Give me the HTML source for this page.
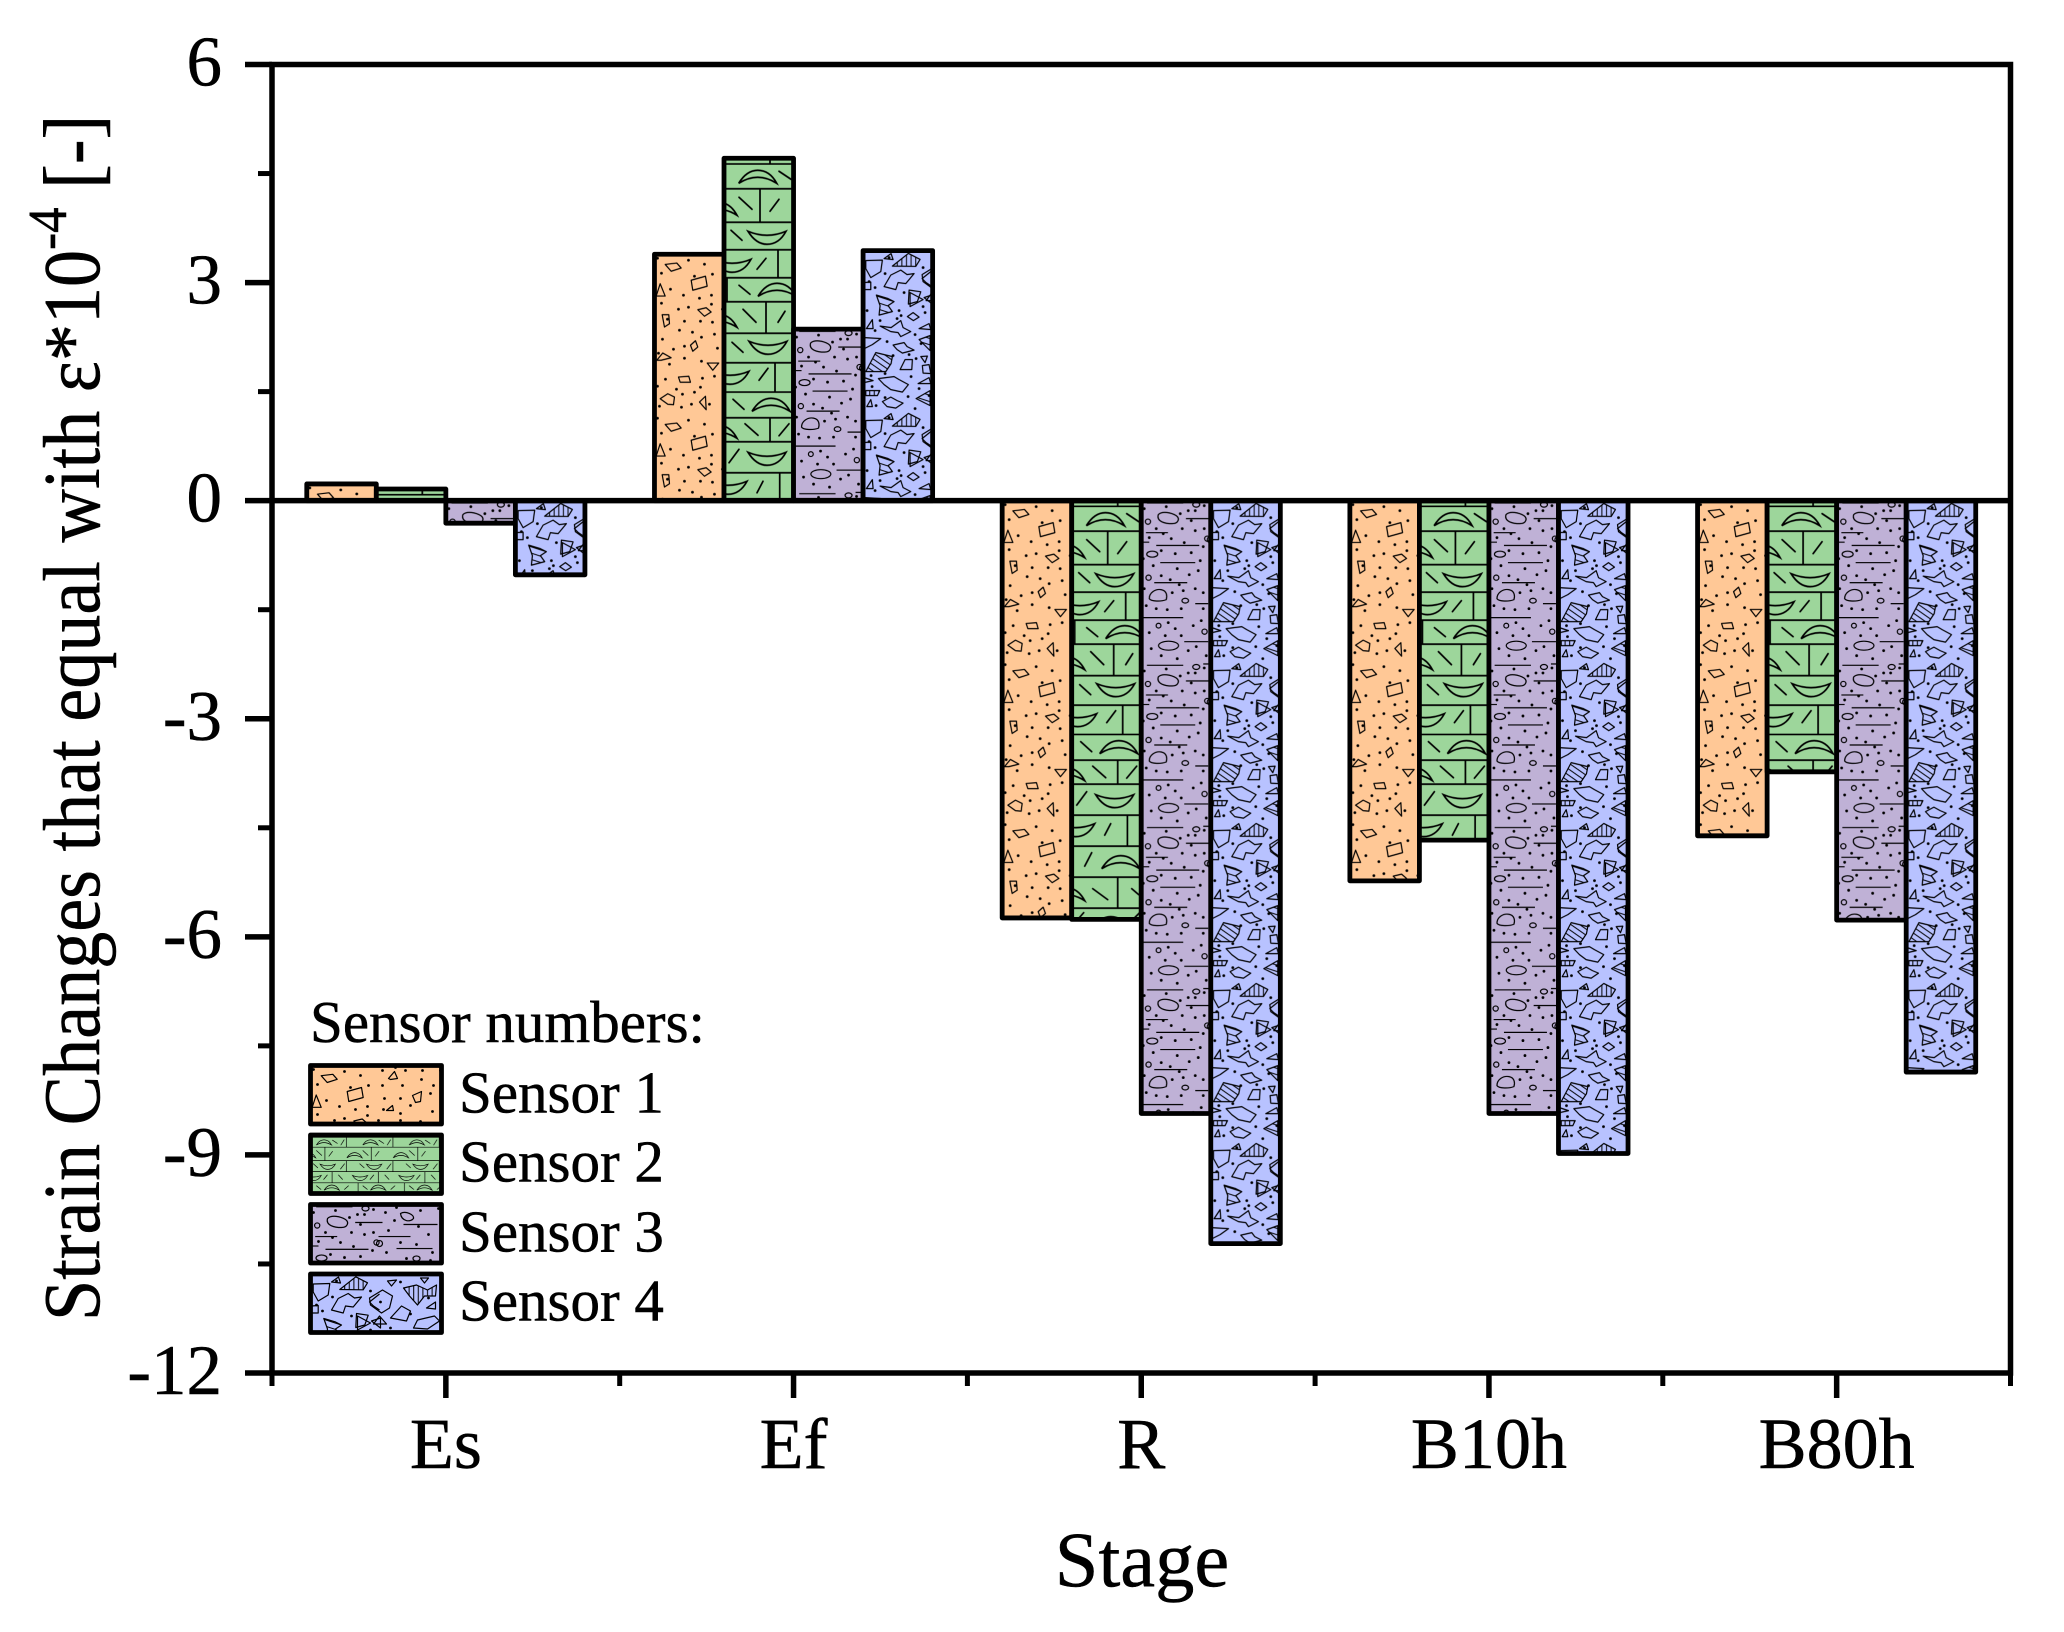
<!DOCTYPE html>
<html lang="en">
<head>
<meta charset="utf-8">
<title>Strain changes by stage</title>
<style>
html,body{margin:0;padding:0;background:#fff;}
svg{display:block;}
text{font-family:"Liberation Serif","Times New Roman",serif;fill:#000;stroke:#000;stroke-width:0.5px;}
</style>
</head>
<body>
<svg id="chart" xmlns="http://www.w3.org/2000/svg" width="2064" height="1632" viewBox="0 0 2064 1632">
<defs>
  <path id="arcU" d="M0 14Q8 1 19 1Q31 1 38 14Q19 2 0 14Z"/>
  <path id="arcD" d="M0 0Q19 8 38 0Q31 13 19 13Q8 13 0 0Z"/>
  <pattern id="hatchV" patternUnits="userSpaceOnUse" width="4.6" height="10"><path d="M2 0V10" stroke="#000" stroke-width="1"/></pattern>
  <pattern id="hatchD" patternUnits="userSpaceOnUse" width="5" height="5" patternTransform="rotate(-55)"><path d="M2 0V5" stroke="#000" stroke-width="1"/></pattern>
  <pattern id="hatchH" patternUnits="userSpaceOnUse" width="6" height="6" patternTransform="rotate(18)"><path d="M0 3H6" stroke="#000" stroke-width="1"/></pattern>

  <pattern id="pOrange" patternUnits="userSpaceOnUse" width="160" height="160">
    <rect width="160" height="160" fill="#FFC896"/>
    <g fill="none" stroke="#000" stroke-width="1.2" stroke-linejoin="round">
      <path d="M10.7 10.2L22.3 8.8L26.7 13.8L16.7 17Z"/>
      <path d="M36.7 26L51 22L52.7 32L38.3 36Z"/>
      <path d="M1.7 41.8L5.7 29.5L10.7 41.8Z"/>
      <path d="M7.7 60.5L14.3 60.5L15 69.5L10 72.8Z"/>
      <path d="M43.3 55.5L51.7 53.5L56.7 57.8L50 62Z"/>
      <path d="M36 91L41 86.5L43.3 92.8L38.3 97Z"/>
      <path d="M2.3 106L8.3 98.8L16.7 103.5L6.7 106Z"/>
      <path d="M52.7 108.8L64.3 108.8L58.3 116Z"/>
      <path d="M24 122.8L34.3 122L36 128L25.7 128Z"/>
      <path d="M5.7 144.5L13.3 139.5L20 142.8L19 150.5L13.3 150Z"/>
      <path d="M45 147.8L51 142L51.7 155.5Z"/>
      <path d="M78 13L84 6L87 13L80 14Z"/>
      <path d="M102 30L111 26L110 36L105 37Z"/>
      <path d="M76 45L82 40L83 45Z"/>
    </g>
    <path stroke="#000" stroke-width="2.8" stroke-linecap="round" fill="none" d="M3 4h0M34 6h0M50 10h0M7 19h0M58 20h0M40 22h0M16 35h0M29 41h0M57 41h0M7 49h0M34 53h0M24 55h0M57 50h0M45 44h0M13 65h0M30 67h0M46 67h0M58 68h0M25 76h0M38 78h0M8 85h0M47 83h0M60 80h0M19 95h0M30 92h0M63 94h0M4 99h0M15 110h0M30 104h0M47 107h0M11 125h0M48 124h0M60 122h0M3 132h0M22 135h0M28 140h0M40 138h0M5 152h0M37 150h0M55 150h0M27 153h0M46 133h0M72 5h0M85 2h0M95 5h0M112 5h0M130 5h0M72 20h0M92 20h0M111 14h0M123 20h0M74 33h0M90 33h0M120 28h0M73 44h0M90 48h0M100 40h0M122 46h0M68 55h0M90 55h0M110 56h0"/>
  </pattern>

  <pattern id="pGreen" patternUnits="userSpaceOnUse" width="116" height="430">
    <rect width="116" height="430" fill="#9DD69B"/>
    <path fill="none" stroke="#000" stroke-width="1.7" d="M0 5.7H116M0 30.5H116M0 64H116M0 91.5H116M0 119.5H116M0 143.5H116M0 175H116M0 204.5H116M0 233.8H116M0 259.5H116M0 283.5H116M0 314.5H116M0 345.5H116M0 376.5H116M0 407.5H116M46 0V5.7M90 5.7V30.5M36 30.5V64M90 64V91.5M54 91.5V119.5M3 119.5V143.5M42 143.5V175M95 175V204.5M51 204.5V233.8M100 233.8V259.5M46 259.5V283.5M90 283.5V314.5M55.7 314.5V345.5M100 345.5V376.5M46 376.5V407.5M95 407.5V430"/>
    <g fill="none" stroke="#000" stroke-width="1.7" stroke-linecap="round">
      <path d="M55 13L67 21M76 25L84 12M15 39L28 51M46 53L55 41M7 72L18 82M75 85L85 72M33 111L42 100M70 100L80 111M15 127L26 136M85 136L95 127M19 151L32 164M54 164L61 153M8 184L19 194M80 195L90 184M35 222L44 210M70 210L80 222M9 241L20 251M80 252L90 240M21 265.5L34 277M55 277.5L65 265.5M5 304.5L15 291M75 305L85 291M33 334.5L39 323M70 323L80 335M13 365.5L20 352M80 366L90 352M21 388L36 399M60 388L67 394M60 420L68 412M5 420L12 412"/>
      <use href="#arcU" x="14.7" y="11"/>
      <use href="#arcU" x="-25" y="43"/>
      <use href="#arcU" x="91" y="43"/>
      <use href="#arcD" x="24" y="73"/>
      <use href="#arcD" x="-11" y="101"/>
      <use href="#arcD" x="105" y="101"/>
      <use href="#arcU" x="34" y="124"/>
      <use href="#arcU" x="-25" y="155"/>
      <use href="#arcU" x="91" y="155"/>
      <use href="#arcD" x="25" y="183"/>
      <use href="#arcD" x="-13" y="213"/>
      <use href="#arcD" x="103" y="213"/>
      <use href="#arcU" x="28" y="239"/>
      <use href="#arcU" x="-25" y="266"/>
      <use href="#arcU" x="91" y="266"/>
      <use href="#arcD" x="24" y="294"/>
      <use href="#arcD" x="-15" y="323"/>
      <use href="#arcD" x="101" y="323"/>
      <use href="#arcU" x="30" y="354"/>
      <use href="#arcU" x="-25" y="386"/>
      <use href="#arcU" x="91" y="386"/>
      <use href="#arcU" x="20" y="415"/>
    </g>
  </pattern>
  <pattern id="pGreenS" href="#pGreen" patternTransform="scale(0.4)"></pattern>

  <pattern id="pPurple" patternUnits="userSpaceOnUse" width="160" height="162.3">
    <rect width="160" height="162.3" fill="#BFB1D6"/>
    <g fill="none" stroke="#000" stroke-width="1.2">
      <path d="M17 14C21 10 30 12 35 15C39 18 37 23 31 23C24 23 15 21 17 14Z"/>
      <circle cx="6.7" cy="21" r="2.6"/>
      <path d="M4.7 32H26.7M44.7 18H72M0 41.5H8M15 44.8H58M19 62H54M13 82H46M54 103H67M0 117H42M43 141H67M5.7 2.3H42M62 1H70"/>
      <circle cx="66" cy="38" r="2.6"/>
      <ellipse cx="11" cy="53.5" rx="5.5" ry="3"/>
      <circle cx="7.3" cy="77" r="2.6"/>
      <path d="M8 98C8 92 14 88 20 89C26 90 26 96 25 99C20 101 10 101 8 98Z"/>
      <ellipse cx="44" cy="100" rx="3.3" ry="2.4"/>
      <circle cx="17.3" cy="125" r="2.4"/>
      <circle cx="63.3" cy="131" r="2.6"/>
      <ellipse cx="27.3" cy="145" rx="10" ry="4.5"/>
      <ellipse cx="55" cy="4" rx="3.5" ry="2.5"/>
      <path d="M90 9C95 6 104 10 103 14C100 18 91 17 90 9Z"/>
      <path d="M93 20H127M68 32H100M86 44H122"/>
      <circle cx="69" cy="39" r="3"/>
      <ellipse cx="106" cy="54" rx="3.5" ry="2.5"/>
    </g>
    <path stroke="#000" stroke-width="2.8" stroke-linecap="round" fill="none" d="M25 6h0M47 10h0M54 10h0M3 8h0M39 13h0M50 20h0M63 5h0M15 28h0M22 33h0M41 28h0M54 30h0M63 28h0M30 38h0M8 37h0M43 42h0M62 46h0M20 50h0M34 53h0M50 52h0M59 60h0M2 58h0M12 65h0M36 68h0M57 70h0M29 79h0M48 74h0M20 75h0M38 84h0M54 88h0M3 88h0M31 92h0M42 90h0M62 92h0M5 105h0M15 108h0M26 109h0M40 108h0M62 108h0M27 122h0M34 128h0M52 125h0M60 120h0M8 132h0M24 135h0M40 135h0M10 148h0M47 150h0M55 146h0M20 155h0M36 158h0M65 155h0M75 8h0M86 3h0M110 6h0M128 4h0M84 16h0M108 22h0M78 26h0M118 30h0M90 38h0M106 40h0M76 48h0M122 48h0M96 54h0M120 56h0"/>
  </pattern>

  <pattern id="pBlue" patternUnits="userSpaceOnUse" width="160" height="160">
    <rect width="160" height="160" fill="#B8C2FF"/>
    <g fill="none" stroke="#000" stroke-width="1.2" stroke-linejoin="round">
      <path d="M29.3 15.5L45.3 2.8L57 8.8L52.7 15.8Z" fill="url(#hatchV)"/>
      <path d="M2.7 10L19.3 9.5L17.7 21L7.7 27L2.7 18Z"/>
      <path d="M21 36L27.7 24.5L37.7 19.5L44 24L51 23L42.7 33L35 32L32.7 39Z"/>
      <path d="M13.3 44.5L25 48L31 51L25 55L29.3 61L16 64.5L17 55Z" fill="url(#hatchH)"/>
      <path d="M46 39.5L57.7 41.2L54.3 51L45.3 53.5Z"/>
      <path d="M44.3 66L50 62L56 66.5L50.3 70Z"/>
      <path d="M3.3 78L9.3 69L10 78Z"/>
      <path d="M17 75.5L28 77L37.7 70L40 77L47.7 81L37.7 86L35 82L27.7 81Z"/>
      <path d="M1 87L17.7 88L9.3 94L1.3 98Z"/>
      <path d="M30 94.5L41 92L44 96L51 99.5L39.3 102.5L34 99Z"/>
      <path d="M2.7 121L12.7 102L29.3 106L28 113L22.7 121Z" fill="url(#hatchD)"/>
      <path d="M37 119L42 109L49.3 109L48.7 119Z"/>
      <path d="M57.7 106L64.3 105.5L62 112Z"/>
      <path d="M59.3 115L66 114L67.7 123L60 122.5Z"/>
      <path d="M55 133L66 127L67.7 133Z"/>
      <path d="M15.3 128L31 126L36 129L45.3 134L39.3 141.5L27.7 139L21 134Z"/>
      <path d="M19.3 151L27.7 146.5L34 150L40 152.5L32.7 157.5L24 156Z"/>
      <path d="M2.7 140L16.7 140L14.3 145L2.7 145Z" fill="url(#hatchV)"/>
      <path d="M3.7 156L7.7 149L9.3 156Z"/>
      <path d="M1 127L10 130L1 132Z"/>
      <path d="M1 32L7.7 31.5L7.7 39L1 39Z"/>
      <path d="M69 20L59 28L63 32L69 36"/>
      <path d="M56 78L66 73L67.7 79Z"/>
      <path d="M56 89L67 85L67 100Z" fill="url(#hatchH)"/>
      <path d="M53 148L67 140L67 155Z" fill="url(#hatchH)"/>
      <path d="M21 8L28 3L30 9Z"/>
      <path d="M61 47L70 44L70 54Z"/>
      <path d="M59 24L72 16L82 22L79 34L71 39L60 31Z"/>
      <path d="M93 14L106 11L117 16L126 11L125 22L114 22L107 31L99 22Z" fill="url(#hatchV)"/>
      <path d="M77 7L86 6L81 12Z"/>
      <path d="M110 4L118 4L114 9Z"/>
      <path d="M116 34L125 28L125 35Z"/>
      <path d="M80 44L91 32L100 37L96 47Z"/>
      <path d="M103 54L107 46L124 42L129 47L117 55Z"/>
      <path d="M47 42L60 49L47 56Z"/>
      <path d="M63 50L69 42L76 50Z"/>
    </g>
    <path stroke="#000" stroke-width="2.8" stroke-linecap="round" fill="none" d="M26 7h0M60 17h0M22 23h0M6 31h0M41 42h0M12 37h0M60 56h0M36 60h0M38 65h0M4 60h0M62 62h0M17 70h0M34 68h0M12 80h0M52 84h0M24 91h0M58 93h0M30 105h0M46 104h0M53 108h0M8 125h0M22 123h0M48 126h0M9 136h0M56 138h0M22 147h0M45 146h0M66 145h0M13 155h0M52 158h0M70 28h0M90 8h0M100 40h0M118 24h0M80 54h0"/>
  </pattern>
</defs>
<rect width="2064" height="1632" fill="#fff"/>
<g id="bars"></g>
<g id="axes"></g>
<g id="legend">
  <text x="310" y="1042" font-size="59">Sensor numbers:</text>
  <g>
    <g transform="translate(310.5,1065.5)"><rect width="131" height="58.5" fill="url(#pOrange)" stroke="#000" stroke-width="4.8" stroke-linejoin="round"/></g>
    <text x="459" y="1112.5" font-size="59">Sensor 1</text>
  </g>
  <g>
    <g transform="translate(310.5,1135)"><rect width="131" height="58.5" fill="url(#pGreenS)" stroke="#000" stroke-width="4.8" stroke-linejoin="round"/></g>
    <text x="459" y="1181.5" font-size="59">Sensor 2</text>
  </g>
  <g>
    <g transform="translate(310.5,1204.5)"><rect width="131" height="58.5" fill="url(#pPurple)" stroke="#000" stroke-width="4.8" stroke-linejoin="round"/></g>
    <text x="459" y="1251.5" font-size="59">Sensor 3</text>
  </g>
  <g>
    <g transform="translate(310.5,1274)"><rect width="131" height="58.5" fill="url(#pBlue)" stroke="#000" stroke-width="4.8" stroke-linejoin="round"/></g>
    <text x="459" y="1320.5" font-size="59">Sensor 4</text>
  </g>
</g>
<text transform="translate(99,1321) rotate(-90) scale(0.927,1)" font-size="80">Strain Changes that equal with ε*10<tspan dy="-33" font-size="55">-4</tspan><tspan dy="33"> [-]</tspan></text>
<text x="1142" y="1586" text-anchor="middle" font-size="78.5">Stage</text>
<script>
const categories = ["Es", "Ef", "R", "B10h", "B80h"];
const sensor1 = [0.23, 3.39, -5.74, -5.23, -4.61];
const sensor2 = [0.16, 4.71, -5.76, -4.67, -3.73];
const sensor3 = [-0.31, 2.36, -8.43, -8.43, -5.77];
const sensor4 = [-1.02, 3.44, -10.22, -8.98, -7.86];
const yTickLabels = ["6", "3", "0", "-3", "-6", "-9", "-12"];
const yTickValues = [6, 3, 0, -3, -6, -9, -12];
const yMinorValues = [4.5, 1.5, -1.5, -4.5, -7.5, -10.5];

const NS = "http://www.w3.org/2000/svg";
const plotLeft = 272, plotRight = 2010.5, plotTop = 64.5, plotBottom = 1373;
const yMax = 6, yMin = -12;
const series = [sensor1, sensor2, sensor3, sensor4];
const fills = ["pOrange", "pGreen", "pPurple", "pBlue"];
const catW = (plotRight - plotLeft) / categories.length;
const barW = catW * 0.2;
function yPos(v) { return plotTop + (yMax - v) * (plotBottom - plotTop) / (yMax - yMin); }
function catCenter(i) { return plotLeft + catW * (i + 0.5); }
function barLeft(i, s) { return catCenter(i) + (s - 2) * barW; }

function el(tag, parent) { const e = document.createElementNS(NS, tag); parent.appendChild(e); return e; }
function line(parent, x1, y1, x2, y2, w) {
  const l = el("line", parent);
  l.setAttribute("x1", x1); l.setAttribute("y1", y1);
  l.setAttribute("x2", x2); l.setAttribute("y2", y2);
  l.setAttribute("stroke", "#000"); l.setAttribute("stroke-width", w);
  return l;
}

const barsG = document.getElementById("bars");
series.forEach(function (vals, s) {
  vals.forEach(function (v, i) {
    const top = Math.min(yPos(v), yPos(0));
    const g = el("g", barsG);
    g.setAttribute("transform", "translate(" + barLeft(i, s) + "," + top + ")");
    
    
    const r = el("rect", g);
    r.setAttribute("width", barW);
    r.setAttribute("height", Math.abs(yPos(v) - yPos(0)));
    r.setAttribute("fill", "url(#" + fills[s] + ")");
    r.setAttribute("stroke", "#000");
    r.setAttribute("stroke-width", "4.8");
    r.setAttribute("stroke-linejoin", "round");
    
    
  });
});

const axesG = document.getElementById("axes");
const zeroLine = line(axesG, plotLeft, yPos(0), plotRight, yPos(0), 5.5);



const frame = el("rect", axesG);
frame.setAttribute("x", plotLeft);
frame.setAttribute("y", plotTop);
frame.setAttribute("width", plotRight - plotLeft);
frame.setAttribute("height", plotBottom - plotTop);
frame.setAttribute("fill", "none");
frame.setAttribute("stroke", "#000");
frame.setAttribute("stroke-width", "5.5");



yTickValues.forEach(function (v, i) {
  const t = line(axesG, 245, yPos(v), plotLeft, yPos(v), 5.5);
  
  
  const lab = el("text", axesG);
  lab.setAttribute("x", 222);
  lab.setAttribute("y", yPos(v) + 21);
  lab.setAttribute("text-anchor", "end");
  lab.setAttribute("font-size", "71");
  lab.textContent = yTickLabels[i];
  
  
});
yMinorValues.forEach(function (v) {
  const t = line(axesG, 258, yPos(v), plotLeft, yPos(v), 5);
  
  
});
categories.forEach(function (c, i) {
  const x = catCenter(i);
  const t = line(axesG, x, plotBottom, x, 1398, 5.5);
  
  
  const lab = el("text", axesG);
  lab.setAttribute("x", x);
  lab.setAttribute("y", 1468);
  lab.setAttribute("text-anchor", "middle");
  lab.setAttribute("font-size", "72");
  lab.textContent = c;
  
  
});
for (let i = 0; i <= categories.length; i++) {
  const x = plotLeft + catW * i;
  const t = line(axesG, x, plotBottom, x, 1386, 5);
  
  
}
</script>
</svg>
</body>
</html>
